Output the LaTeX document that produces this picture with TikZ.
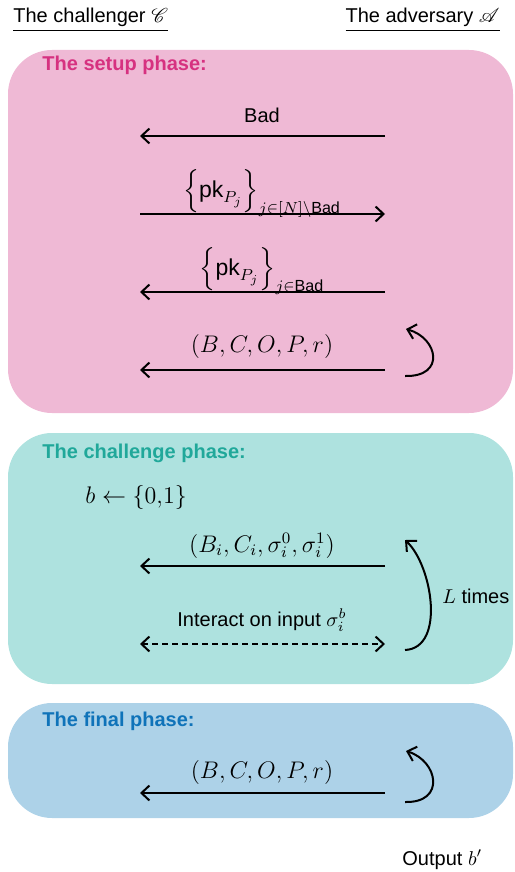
\documentclass[tikz,border=0pt]{standalone}
\usepackage{amsmath}
\usepackage{mathrsfs}
\usepackage{fontspec}
\setmainfont{Liberation Sans}
\usetikzlibrary{arrows.meta}
\definecolor{setupbg}{RGB}{239,185,213}
\definecolor{setupfg}{RGB}{214,49,128}
\definecolor{challbg}{RGB}{174,226,223}
\definecolor{challfg}{RGB}{32,168,154}
\definecolor{finalbg}{RGB}{173,210,232}
\definecolor{finalfg}{RGB}{15,115,185}
\tikzset{
  barb/.tip={Straight Barb[length=4pt,width=7.5pt,line width=1pt]},
  msg/.style={line width=1pt, -barb},
  msgboth/.style={line width=1pt, barb-barb, dash pattern=on 3pt off 2pt},
  selfloop/.style={line width=1pt, -barb},
  phasebox/.style={rounded corners=22pt},
  phasetitle/.style={font=\bfseries, anchor=base west, inner sep=0pt},
  lbl/.style={anchor=base, inner sep=0pt},
  mlbl/.style={font=\fontsize{11.5}{13}\selectfont, anchor=base, inner sep=0pt},
}
\begin{document}
\begin{tikzpicture}[x=0.5pt, y=-0.5pt]
    \useasboundingbox (0,0) rectangle (514,872);
    \fill[phasebox, setupbg] (8,50) rectangle (513,413);
    \fill[phasebox, challbg] (8,433) rectangle (513,684);
    \fill[phasebox, finalbg] (8,703) rectangle (513,818);

    \node[anchor=base west, inner sep=0pt] (chal) at (13,23) {\underline{The challenger $\mathscr{C}$}};
    \node[anchor=base east, inner sep=0pt] (adv) at (500,23) {\underline{The adversary $\mathscr{A}$}};

    % setup phase
    \node[phasetitle, text=setupfg] (setupT) at (42,71) {The setup phase:};
    \coordinate (s1C) at (140,136);
    \coordinate (s1A) at (385,136);
    \draw[msg] (s1A) -- (s1C);
    \node[lbl] (s1L) at (262,122) {Bad};
    \coordinate (s2C) at (140,214);
    \coordinate (s2A) at (385,214);
    \draw[msg] (s2C) -- (s2A);
    \node[mlbl] (s2L) at (262,197) {$\left\{\text{pk}_{P_j}\right\}_{j\in[N]\setminus\text{Bad}}$};
    \coordinate (s3C) at (140,292);
    \coordinate (s3A) at (385,292);
    \draw[msg] (s3A) -- (s3C);
    \node[mlbl] (s3L) at (262,275) {$\left\{\text{pk}_{P_j}\right\}_{j\in\text{Bad}}$};
    \coordinate (s4C) at (140,370);
    \coordinate (s4A) at (385,370);
    \draw[msg] (s4A) -- (s4C);
    \node[mlbl] (s4L) at (262,352) {$(B,C,O,P,r)$};
    \coordinate (s4b) at (405,376);
    \coordinate (s4t) at (406,329);
    \draw[selfloop] (s4b) .. controls (446,377) and (438,338) .. (s4t);

    % challenge phase
    \node[phasetitle, text=challfg] (challT) at (42,458) {The challenge phase:};
    \node[mlbl, anchor=base west] (coin) at (85,503) {$b \leftarrow \{0{,}1\}$};
    \coordinate (c1C) at (140,566);
    \coordinate (c1A) at (385,566);
    \draw[msg] (c1A) -- (c1C);
    \node[mlbl] (c1L) at (262,552) {$(B_i,C_i,\sigma_i^0,\sigma_i^1)$};
    \coordinate (c2C) at (140,644);
    \coordinate (c2A) at (385,644);
    \draw[msgboth] (c2C) -- (c2A);
    \node[lbl] (c2L) at (262,626) {Interact on input $\sigma_i^b$};
    \coordinate (cb) at (405,650);
    \coordinate (ct) at (405,540);
    \draw[selfloop] (cb) .. controls (446,648) and (432,565) .. (ct);
    \node[lbl, anchor=base west] (times) at (442,603) {$L$ times};

    % final phase
    \node[phasetitle, text=finalfg] (finalT) at (42,726) {The final phase:};
    \coordinate (f1C) at (140,793);
    \coordinate (f1A) at (385,793);
    \draw[msg] (f1A) -- (f1C);
    \node[mlbl] (f1L) at (262,778) {$(B,C,O,P,r)$};
    \coordinate (fb) at (405,802);
    \coordinate (ft) at (406,751);
    \draw[selfloop] (fb) .. controls (446,803) and (438,761) .. (ft);

    \node[lbl, anchor=base west] (out) at (402,865) {Output $b'$};
\end{tikzpicture}
\end{document}
